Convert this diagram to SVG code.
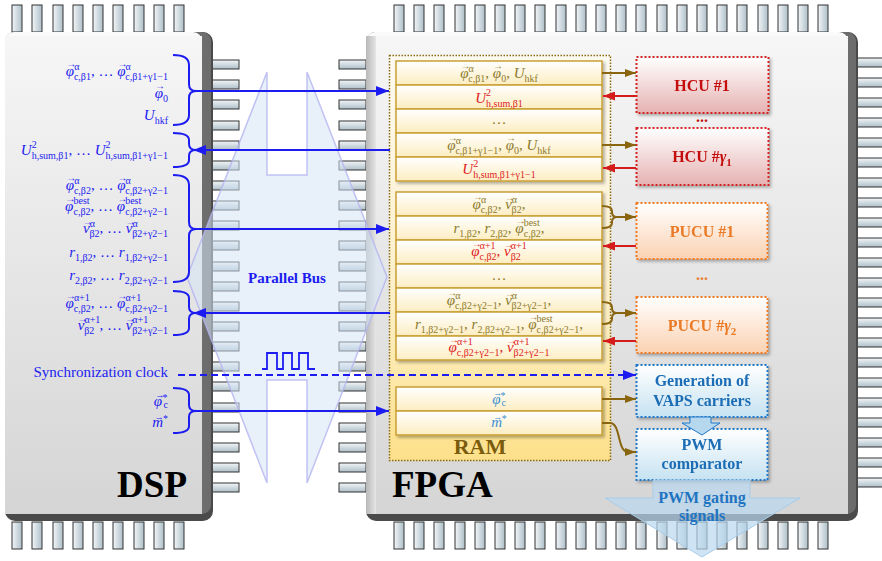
<svg xmlns="http://www.w3.org/2000/svg" xmlns:xlink="http://www.w3.org/1999/xlink" width="882" height="561" viewBox="0 0 882 561">
<defs>
<linearGradient id="body" x1="0" y1="0" x2="0" y2="1"><stop offset="0" stop-color="#f6f6f6"/><stop offset="1" stop-color="#d5d5d5"/></linearGradient>
<linearGradient id="rimR" x1="0" y1="0" x2="1" y2="0"><stop offset="0" stop-color="#a4a4a4"/><stop offset="1" stop-color="#6c6c6c"/></linearGradient>
<linearGradient id="rimL" x1="0" y1="0" x2="1" y2="0"><stop offset="0" stop-color="#b8b8b8"/><stop offset="1" stop-color="#eeeeee"/></linearGradient>
<linearGradient id="pinGH" x1="0" y1="0" x2="1" y2="0"><stop offset="0" stop-color="#f2f6f8"/><stop offset="1" stop-color="#aebfc8"/></linearGradient>
<linearGradient id="pinGV" x1="0" y1="0" x2="0" y2="1"><stop offset="0" stop-color="#f2f6f8"/><stop offset="1" stop-color="#aebfc8"/></linearGradient>
<linearGradient id="ramBg" x1="0" y1="0" x2="0" y2="1"><stop offset="0" stop-color="#fdfaf1"/><stop offset="0.6" stop-color="#fdf0c8"/><stop offset="1" stop-color="#fde08a"/></linearGradient>
<linearGradient id="cell" x1="0" y1="0" x2="0" y2="1"><stop offset="0" stop-color="#ffffff"/><stop offset="1" stop-color="#fdedc2"/></linearGradient>
<linearGradient id="hcuG" x1="0" y1="0" x2="0" y2="1"><stop offset="0" stop-color="#ffffff"/><stop offset="1" stop-color="#e6b2b2"/></linearGradient>
<linearGradient id="pucuG" x1="0" y1="0" x2="0" y2="1"><stop offset="0" stop-color="#ffffff"/><stop offset="1" stop-color="#fbd2b2"/></linearGradient>
<linearGradient id="genG" x1="0" y1="0" x2="0" y2="1"><stop offset="0" stop-color="#ffffff"/><stop offset="1" stop-color="#c6e2f1"/></linearGradient>
<filter id="sh" x="-10%" y="-10%" width="130%" height="140%"><feDropShadow dx="2" dy="2" stdDeviation="1.5" flood-color="#000" flood-opacity="0.3"/></filter>
<marker id="mb" markerUnits="userSpaceOnUse" markerWidth="13" markerHeight="10" refX="13" refY="5" orient="auto"><path d="M0,0 L13,5 L0,10 z" fill="#1c1cf0"/></marker>
<marker id="mbr" markerUnits="userSpaceOnUse" markerWidth="11" markerHeight="8" refX="11" refY="4" orient="auto"><path d="M0,0 L11,4 L0,8 z" fill="#8a6510"/></marker>
<marker id="mr" markerUnits="userSpaceOnUse" markerWidth="12" markerHeight="9" refX="12" refY="4.5" orient="auto"><path d="M0,0 L12,4.5 L0,9 z" fill="#d41c1c"/></marker>
<rect id="pv" width="10" height="27" fill="url(#pinGH)" stroke="#333" stroke-width="1"/>
<rect id="ph" width="27" height="9" fill="url(#pinGV)" stroke="#333" stroke-width="1"/>
<style>
text{font-family:"Liberation Serif","Times New Roman",serif;}
.d{fill:#1c1cf0;font-size:15px;text-anchor:end}
.i{font-style:italic}
.s{font-size:10px;font-style:normal}
.ar{font-family:"Liberation Mono",monospace;font-size:10px;font-style:normal}
.ar3{font-family:"Liberation Mono",monospace;font-size:9px;font-style:normal}
.c{text-anchor:middle;font-size:15px}
.ol{fill:#8b7a2c}
.rd{fill:#dd2222}
.bl{fill:#3a8ed4}
.cellr{fill:url(#cell);stroke:#c9a035;stroke-width:1.5}
.bt{font-weight:bold;text-anchor:middle;font-size:16px}
.blu{stroke:#1c1cf0;stroke-width:2;fill:none}
.brn{stroke:#8a6510;stroke-width:2;fill:none}
.red{stroke:#d41c1c;stroke-width:2;fill:none}
</style>
</defs>
<rect width="882" height="561" fill="#ffffff"/>

<g id="dsp">
<g id="dsp-pins">
<use href="#pv" x="12" y="5"/><use href="#pv" x="32" y="5"/><use href="#pv" x="53" y="5"/><use href="#pv" x="73" y="5"/><use href="#pv" x="93" y="5"/><use href="#pv" x="113" y="5"/><use href="#pv" x="134" y="5"/><use href="#pv" x="154" y="5"/><use href="#pv" x="174" y="5"/>
<use href="#pv" x="12" y="522"/><use href="#pv" x="32" y="522"/><use href="#pv" x="53" y="522"/><use href="#pv" x="73" y="522"/><use href="#pv" x="93" y="522"/><use href="#pv" x="113" y="522"/><use href="#pv" x="134" y="522"/><use href="#pv" x="154" y="522"/><use href="#pv" x="174" y="522"/>
<use href="#ph" x="212" y="60"/><use href="#ph" x="212" y="80"/><use href="#ph" x="212" y="100"/><use href="#ph" x="212" y="121"/><use href="#ph" x="212" y="141"/><use href="#ph" x="212" y="161"/><use href="#ph" x="212" y="181"/><use href="#ph" x="212" y="201"/><use href="#ph" x="212" y="221"/><use href="#ph" x="212" y="241"/><use href="#ph" x="212" y="262"/><use href="#ph" x="212" y="282"/><use href="#ph" x="212" y="302"/><use href="#ph" x="212" y="322"/><use href="#ph" x="212" y="342"/><use href="#ph" x="212" y="362"/><use href="#ph" x="212" y="382"/><use href="#ph" x="212" y="403"/><use href="#ph" x="212" y="423"/><use href="#ph" x="212" y="443"/><use href="#ph" x="212" y="463"/><use href="#ph" x="212" y="483"/>
</g>
<rect x="5" y="32" width="208" height="489" rx="10" fill="#4a4a4a"/>
<rect x="5" y="32" width="206" height="482" rx="9" fill="url(#rimR)"/>
<rect x="5" y="32" width="197" height="482" rx="9" fill="#fafafa"/>
<rect x="5" y="36" width="197" height="478" fill="url(#body)"/>
<text x="187" y="497" font-size="37" font-weight="bold" text-anchor="end" fill="#000">DSP</text>
</g>

<g id="fpga">
<g id="fpga-pins">
<use href="#pv" x="394" y="5"/><use href="#pv" x="414" y="5"/><use href="#pv" x="434" y="5"/><use href="#pv" x="455" y="5"/><use href="#pv" x="475" y="5"/><use href="#pv" x="495" y="5"/><use href="#pv" x="515" y="5"/><use href="#pv" x="535" y="5"/><use href="#pv" x="556" y="5"/><use href="#pv" x="576" y="5"/><use href="#pv" x="596" y="5"/><use href="#pv" x="616" y="5"/><use href="#pv" x="636" y="5"/><use href="#pv" x="657" y="5"/><use href="#pv" x="677" y="5"/><use href="#pv" x="697" y="5"/><use href="#pv" x="717" y="5"/><use href="#pv" x="737" y="5"/><use href="#pv" x="758" y="5"/><use href="#pv" x="778" y="5"/><use href="#pv" x="798" y="5"/><use href="#pv" x="818" y="5"/>
<use href="#pv" x="394" y="522"/><use href="#pv" x="414" y="522"/><use href="#pv" x="434" y="522"/><use href="#pv" x="455" y="522"/><use href="#pv" x="475" y="522"/><use href="#pv" x="495" y="522"/><use href="#pv" x="515" y="522"/><use href="#pv" x="535" y="522"/><use href="#pv" x="556" y="522"/><use href="#pv" x="576" y="522"/><use href="#pv" x="596" y="522"/><use href="#pv" x="616" y="522"/><use href="#pv" x="636" y="522"/><use href="#pv" x="657" y="522"/><use href="#pv" x="677" y="522"/><use href="#pv" x="697" y="522"/><use href="#pv" x="717" y="522"/><use href="#pv" x="737" y="522"/><use href="#pv" x="758" y="522"/><use href="#pv" x="778" y="522"/><use href="#pv" x="798" y="522"/><use href="#pv" x="818" y="522"/>
<use href="#ph" x="339" y="60"/><use href="#ph" x="339" y="80"/><use href="#ph" x="339" y="100"/><use href="#ph" x="339" y="121"/><use href="#ph" x="339" y="141"/><use href="#ph" x="339" y="161"/><use href="#ph" x="339" y="181"/><use href="#ph" x="339" y="201"/><use href="#ph" x="339" y="221"/><use href="#ph" x="339" y="241"/><use href="#ph" x="339" y="262"/><use href="#ph" x="339" y="282"/><use href="#ph" x="339" y="302"/><use href="#ph" x="339" y="322"/><use href="#ph" x="339" y="342"/><use href="#ph" x="339" y="362"/><use href="#ph" x="339" y="382"/><use href="#ph" x="339" y="403"/><use href="#ph" x="339" y="423"/><use href="#ph" x="339" y="443"/><use href="#ph" x="339" y="463"/><use href="#ph" x="339" y="483"/>
<use href="#ph" x="857" y="58"/><use href="#ph" x="857" y="78"/><use href="#ph" x="857" y="98"/><use href="#ph" x="857" y="118"/><use href="#ph" x="857" y="138"/><use href="#ph" x="857" y="158"/><use href="#ph" x="857" y="178"/><use href="#ph" x="857" y="198"/><use href="#ph" x="857" y="218"/><use href="#ph" x="857" y="238"/><use href="#ph" x="857" y="258"/><use href="#ph" x="857" y="278"/><use href="#ph" x="857" y="298"/><use href="#ph" x="857" y="318"/><use href="#ph" x="857" y="338"/><use href="#ph" x="857" y="358"/><use href="#ph" x="857" y="378"/><use href="#ph" x="857" y="398"/><use href="#ph" x="857" y="418"/><use href="#ph" x="857" y="438"/><use href="#ph" x="857" y="458"/><use href="#ph" x="857" y="478"/>
</g>
<rect x="366" y="32" width="492" height="489" rx="10" fill="#4a4a4a"/>
<rect x="366" y="32" width="490" height="482" rx="9" fill="url(#rimR)"/>
<rect x="366" y="32" width="482" height="482" rx="9" fill="#fafafa"/>
<rect x="366" y="36" width="12" height="478" fill="url(#rimL)"/>
<rect x="376" y="36" width="472" height="478" fill="url(#body)"/>
<text x="392" y="497" font-size="37" font-weight="bold" fill="#000">FPGA</text>
</g>

<g id="bus">
<polygon points="187,277 267,72 267,175 307,175 307,72 387,277 307,483 307,380 267,380 267,483" fill="#d6e6f6" fill-opacity="0.55" stroke="#b4b4f0" stroke-opacity="0.8" stroke-width="1.5"/>
<text x="287" y="283" font-size="15" font-weight="bold" text-anchor="middle" fill="#1c1cf0">Parallel Bus</text>
<path d="M262,369 H267 V353 H277 V369 H283 V353 H292 V369 H299 V353 H308 V369 H315" fill="none" stroke="#1c1cf0" stroke-width="1.8"/>
</g>

<g id="dsp-labels">
<text class="d" x="168" y="76"><tspan class="i">φ</tspan><tspan class="ar" dx="-6" dy="-9">→</tspan><tspan class="s" dy="3">α</tspan><tspan class="s" dx="-5.5" dy="10">c,β1</tspan><tspan dy="-4">, … </tspan><tspan class="i">φ</tspan><tspan class="ar" dx="-6" dy="-9">→</tspan><tspan class="s" dy="3">α</tspan><tspan class="s" dx="-5.5" dy="10">c,β1+γ1−1</tspan></text>
<text class="d" x="168" y="98"><tspan class="i">φ</tspan><tspan class="ar" dx="-6" dy="-9">→</tspan><tspan class="s" dy="13">0</tspan></text>
<text class="d" x="168" y="120"><tspan class="i">U</tspan><tspan class="s" dy="4">hkf</tspan></text>
<text class="d" x="168" y="155"><tspan class="i">U</tspan><tspan class="s" dy="-7">2</tspan><tspan class="s" dx="-5" dy="11">h,sum,β1</tspan><tspan dy="-4">, … </tspan><tspan class="i">U</tspan><tspan class="s" dy="-7">2</tspan><tspan class="s" dx="-5" dy="11">h,sum,β1+γ1−1</tspan></text>
<text class="d" x="168" y="190"><tspan class="i">φ</tspan><tspan class="ar" dx="-6" dy="-9">→</tspan><tspan class="s" dy="3">α</tspan><tspan class="s" dx="-5.5" dy="10">c,β2</tspan><tspan dy="-4">, … </tspan><tspan class="i">φ</tspan><tspan class="ar" dx="-6" dy="-9">→</tspan><tspan class="s" dy="3">α</tspan><tspan class="s" dx="-5.5" dy="10">c,β2+γ2−1</tspan></text>
<text class="d" x="168" y="211"><tspan class="i">φ</tspan><tspan class="ar" dx="-6" dy="-9">→</tspan><tspan class="s" dy="2">best</tspan><tspan class="s" dx="-16" dy="11">c,β2</tspan><tspan dy="-4">, … </tspan><tspan class="i">φ</tspan><tspan class="ar" dx="-6" dy="-9">→</tspan><tspan class="s" dy="2">best</tspan><tspan class="s" dx="-16" dy="11">c,β2+γ2−1</tspan></text>
<text class="d" x="168" y="233"><tspan class="i">v</tspan><tspan class="ar" dx="-5" dy="-8">→</tspan><tspan class="s" dx="-1" dy="2">α</tspan><tspan class="s" dx="-5.5" dy="10">β2</tspan><tspan dy="-4">, … </tspan><tspan class="i">v</tspan><tspan class="ar" dx="-5" dy="-8">→</tspan><tspan class="s" dx="-1" dy="2">α</tspan><tspan class="s" dx="-5.5" dy="10">β2+γ2−1</tspan></text>
<text class="d" x="168" y="257"><tspan class="i">r</tspan><tspan class="s" dy="4">1,β2</tspan><tspan dy="-4">, … </tspan><tspan class="i">r</tspan><tspan class="s" dy="4">1,β2+γ2−1</tspan></text>
<text class="d" x="168" y="280"><tspan class="i">r</tspan><tspan class="s" dy="4">2,β2</tspan><tspan dy="-4">, … </tspan><tspan class="i">r</tspan><tspan class="s" dy="4">2,β2+γ2−1</tspan></text>
<text class="d" x="168" y="308"><tspan class="i">φ</tspan><tspan class="ar" dx="-6" dy="-9">→</tspan><tspan class="s" dy="2">α+1</tspan><tspan class="s" dx="-16" dy="11">c,β2</tspan><tspan dy="-4">, … </tspan><tspan class="i">φ</tspan><tspan class="ar" dx="-6" dy="-9">→</tspan><tspan class="s" dy="2">α+1</tspan><tspan class="s" dx="-16" dy="11">c,β2+γ2−1</tspan></text>
<text class="d" x="168" y="330"><tspan class="i">v</tspan><tspan class="ar" dx="-5" dy="-8">→</tspan><tspan class="s" dx="-1" dy="1">α+1</tspan><tspan class="s" dx="-16" dy="11">β2</tspan><tspan dx="5" dy="-4">, … </tspan><tspan class="i">v</tspan><tspan class="ar" dx="-5" dy="-8">→</tspan><tspan class="s" dx="-1" dy="1">α+1</tspan><tspan class="s" dx="-16" dy="11">β2+γ2−1</tspan></text>
<text class="d" x="168" y="377" font-size="16">Synchronization clock</text>
<text class="d" x="168" y="406" font-size="13"><tspan class="i">φ</tspan><tspan class="ar3" dx="-5" dy="-8">→</tspan><tspan class="s" font-size="9" dy="3">*</tspan><tspan class="s" font-size="9" dx="-4" dy="7">c</tspan></text>
<text class="d" x="168" y="427" font-size="13"><tspan class="i">m</tspan><tspan class="ar3" dx="-6.4" dy="-7">→</tspan><tspan class="s" font-size="9" dx="1" dy="2">*</tspan></text>
</g>

<g id="ram">
<rect x="389.5" y="55.5" width="221" height="405" fill="url(#ramBg)" stroke="#8a6a12" stroke-width="1.5" stroke-dasharray="1.5 1.5"/>
<g filter="url(#sh)">
<rect class="cellr" x="396" y="61" width="206" height="24"/>
<rect class="cellr" x="396" y="85" width="206" height="24"/>
<rect class="cellr" x="396" y="109" width="206" height="24"/>
<rect class="cellr" x="396" y="133" width="206" height="24"/>
<rect class="cellr" x="396" y="157" width="206" height="24"/>
</g>
<g filter="url(#sh)">
<rect class="cellr" x="396" y="192" width="206" height="24"/>
<rect class="cellr" x="396" y="216" width="206" height="24"/>
<rect class="cellr" x="396" y="240" width="206" height="24"/>
<rect class="cellr" x="396" y="264" width="206" height="24"/>
<rect class="cellr" x="396" y="288" width="206" height="24"/>
<rect class="cellr" x="396" y="312" width="206" height="24"/>
<rect class="cellr" x="396" y="336" width="206" height="24"/>
</g>
<g filter="url(#sh)">
<rect class="cellr" x="396" y="387" width="206" height="24"/>
<rect class="cellr" x="396" y="411" width="206" height="24"/>
</g>
<text class="c ol" x="499" y="78"><tspan class="i">φ</tspan><tspan class="ar" dx="-6" dy="-9">→</tspan><tspan class="s" dy="3">α</tspan><tspan class="s" dx="-5.5" dy="10">c,β1</tspan><tspan dy="-4">, </tspan><tspan class="i">φ</tspan><tspan class="ar" dx="-6" dy="-9">→</tspan><tspan class="s" dy="13">0</tspan><tspan dy="-4">, </tspan><tspan class="i">U</tspan><tspan class="s" dy="4">hkf</tspan></text>
<text class="c rd" x="499" y="103" font-size="16"><tspan class="i">U</tspan><tspan class="s" dy="-7">2</tspan><tspan class="s" dx="-5" dy="11">h,sum,β1</tspan></text>
<text class="c ol" x="499" y="124">…</text>
<text class="c ol" x="499" y="150"><tspan class="i">φ</tspan><tspan class="ar" dx="-6" dy="-9">→</tspan><tspan class="s" dy="3">α</tspan><tspan class="s" dx="-5.5" dy="10">c,β1+γ1−1</tspan><tspan dy="-4">, </tspan><tspan class="i">φ</tspan><tspan class="ar" dx="-6" dy="-9">→</tspan><tspan class="s" dy="13">0</tspan><tspan dy="-4">, </tspan><tspan class="i">U</tspan><tspan class="s" dy="4">hkf</tspan></text>
<text class="c rd" x="499" y="174" font-size="16"><tspan class="i">U</tspan><tspan class="s" dy="-7">2</tspan><tspan class="s" dx="-5" dy="11">h,sum,β1+γ1−1</tspan></text>
<text class="c ol" x="499" y="209"><tspan class="i">φ</tspan><tspan class="ar" dx="-6" dy="-9">→</tspan><tspan class="s" dy="3">α</tspan><tspan class="s" dx="-5.5" dy="10">c,β2</tspan><tspan dy="-4">, </tspan><tspan class="i">v</tspan><tspan class="ar" dx="-5" dy="-8">→</tspan><tspan class="s" dx="-1" dy="2">α</tspan><tspan class="s" dx="-5.5" dy="10">β2</tspan><tspan dy="-4">,</tspan></text>
<text class="c ol" x="499" y="233"><tspan class="i">r</tspan><tspan class="s" dy="4">1,β2</tspan><tspan dy="-4">, </tspan><tspan class="i">r</tspan><tspan class="s" dy="4">2,β2</tspan><tspan dy="-4">, </tspan><tspan class="i">φ</tspan><tspan class="ar" dx="-6" dy="-9">→</tspan><tspan class="s" dy="2">best</tspan><tspan class="s" dx="-16" dy="11">c,β2</tspan><tspan dy="-4">,</tspan></text>
<text class="c rd" x="499" y="256"><tspan class="i">φ</tspan><tspan class="ar" dx="-6" dy="-9">→</tspan><tspan class="s" dy="2">α+1</tspan><tspan class="s" dx="-16" dy="11">c,β2</tspan><tspan dy="-4">, </tspan><tspan class="i">v</tspan><tspan class="ar" dx="-5" dy="-8">→</tspan><tspan class="s" dx="-1" dy="1">α+1</tspan><tspan class="s" dx="-16" dy="11">β2</tspan></text>
<text class="c ol" x="499" y="280">…</text>
<text class="c ol" x="499" y="305"><tspan class="i">φ</tspan><tspan class="ar" dx="-6" dy="-9">→</tspan><tspan class="s" dy="3">α</tspan><tspan class="s" dx="-5.5" dy="10">c,β2+γ2−1</tspan><tspan dy="-4">, </tspan><tspan class="i">v</tspan><tspan class="ar" dx="-5" dy="-8">→</tspan><tspan class="s" dx="-1" dy="2">α</tspan><tspan class="s" dx="-5.5" dy="10">β2+γ2−1</tspan><tspan dy="-4">,</tspan></text>
<text class="c ol" x="499" y="329"><tspan class="i">r</tspan><tspan class="s" dy="4">1,β2+γ2−1</tspan><tspan dy="-4">, </tspan><tspan class="i">r</tspan><tspan class="s" dy="4">2,β2+γ2−1</tspan><tspan dy="-4">, </tspan><tspan class="i">φ</tspan><tspan class="ar" dx="-6" dy="-9">→</tspan><tspan class="s" dy="2">best</tspan><tspan class="s" dx="-16" dy="11">c,β2+γ2−1</tspan><tspan dy="-4">,</tspan></text>
<text class="c rd" x="499" y="352"><tspan class="i">φ</tspan><tspan class="ar" dx="-6" dy="-9">→</tspan><tspan class="s" dy="2">α+1</tspan><tspan class="s" dx="-16" dy="11">c,β2+γ2−1</tspan><tspan dy="-4">, </tspan><tspan class="i">v</tspan><tspan class="ar" dx="-5" dy="-8">→</tspan><tspan class="s" dx="-1" dy="1">α+1</tspan><tspan class="s" dx="-16" dy="11">β2+γ2−1</tspan></text>
<text class="c bl" x="499" y="404" font-size="14"><tspan class="i">φ</tspan><tspan class="ar3" dx="-5.5" dy="-8">→</tspan><tspan class="s" font-size="9" dy="3">*</tspan><tspan class="s" font-size="9" dx="-4" dy="7">c</tspan></text>
<text class="c bl" x="499" y="427" font-size="14"><tspan class="i">m</tspan><tspan class="ar3" dx="-7" dy="-7">→</tspan><tspan class="s" font-size="9" dx="1.2" dy="2">*</tspan></text>
<text x="480" y="454" font-size="22" font-weight="bold" text-anchor="middle" fill="#7a5c0c">RAM</text>
</g>

<g id="hcu1" filter="url(#sh)">
<rect x="636.5" y="57" width="132" height="56" fill="url(#hcuG)" stroke="#d42020" stroke-width="2" stroke-dasharray="2 2"/>
<text class="bt" x="702" y="91" fill="#c41010">HCU #1</text>
</g>
<text id="hcu-dots" class="bt" x="702" y="122" fill="#c41010">...</text>
<g id="hcu-g1" filter="url(#sh)">
<rect x="636.5" y="128" width="132" height="57" fill="url(#hcuG)" stroke="#d42020" stroke-width="2" stroke-dasharray="2 2"/>
<text class="bt" x="702" y="162" fill="#c41010">HCU #<tspan font-style="italic">γ</tspan><tspan font-size="11" dy="4">1</tspan></text>
</g>
<g id="pucu1" filter="url(#sh)">
<rect x="636.5" y="203" width="131" height="56" fill="url(#pucuG)" stroke="#f07a22" stroke-width="2" stroke-dasharray="2 2"/>
<text class="bt" x="702" y="237" fill="#ea7a26">PUCU #1</text>
</g>
<text id="pucu-dots" class="bt" x="702" y="280" fill="#ea7a26">...</text>
<g id="pucu-g2" filter="url(#sh)">
<rect x="636.5" y="297" width="131" height="56" fill="url(#pucuG)" stroke="#f07a22" stroke-width="2" stroke-dasharray="2 2"/>
<text class="bt" x="702" y="331" fill="#ea7a26">PUCU #<tspan font-style="italic">γ</tspan><tspan font-size="11" dy="4">2</tspan></text>
</g>
<g id="gen" filter="url(#sh)">
<rect x="636.5" y="365" width="131" height="52" fill="url(#genG)" stroke="#1f78c8" stroke-width="2" stroke-dasharray="2 2"/>
<text class="bt" x="702" y="386" fill="#1a6db5">Generation of</text>
<text class="bt" x="702" y="406" fill="#1a6db5">VAPS carriers</text>
</g>
<g id="pwm" filter="url(#sh)">
<rect x="636.5" y="429" width="131" height="51" fill="url(#genG)" stroke="#1f78c8" stroke-width="2" stroke-dasharray="2 2"/>
<text class="bt" x="702" y="450" fill="#1a6db5">PWM</text>
<text class="bt" x="702" y="469" fill="#1a6db5">comparator</text>
</g>
<g id="gating">
<polygon points="653,480 750,480 750,498 800,498 702,557 605,498 653,498" fill="#b9d8f0" fill-opacity="0.7" stroke="#a8cce8" stroke-width="1"/>
<text class="bt" x="702" y="503" fill="#1f74c2">PWM gating</text>
<text class="bt" x="702" y="521" fill="#1f74c2">signals</text>
</g>

<g id="connectors">
<path class="blu" d="M173,55 Q189,55 189,65 L189,84 Q189,91 196,91 Q189,91 189,98 L189,115 Q189,125 173,125"/>
<line class="blu" x1="196" y1="91" x2="389" y2="91" marker-end="url(#mb)"/>
<path class="blu" d="M173,133 Q189,133 189,140 L189,144 Q189,150 196,150 Q189,150 189,156 L189,160 Q189,167 173,167"/>
<line class="blu" x1="390" y1="150" x2="193" y2="150" marker-end="url(#mb)"/>
<path class="blu" d="M173,175 Q189,175 189,185 L189,222 Q189,229 196,229 Q189,229 189,236 L189,272 Q189,282 173,282"/>
<line class="blu" x1="196" y1="229" x2="389" y2="229" marker-end="url(#mb)"/>
<path class="blu" d="M173,291 Q189,291 189,298 L189,307 Q189,313 196,313 Q189,313 189,319 L189,328 Q189,335 173,335"/>
<line class="blu" x1="390" y1="313" x2="193" y2="313" marker-end="url(#mb)"/>
<line class="blu" x1="178" y1="375" x2="636" y2="375" stroke-dasharray="7 4" marker-end="url(#mb)"/>
<path class="blu" d="M173,388 Q189,388 189,395 L189,405 Q189,411 196,411 Q189,411 189,417 L189,426 Q189,433 173,433"/>
<line class="blu" x1="196" y1="411" x2="389" y2="411" marker-end="url(#mb)"/>

<line class="brn" x1="602" y1="73" x2="636" y2="73" marker-end="url(#mbr)"/>
<line class="red" x1="636" y1="96" x2="603" y2="96" marker-end="url(#mr)"/>
<line class="brn" x1="602" y1="145" x2="636" y2="145" marker-end="url(#mbr)"/>
<line class="red" x1="636" y1="168" x2="603" y2="168" marker-end="url(#mr)"/>
<path class="brn" d="M602,206 Q612,206 612,211 L612,212 Q612,217 617,217 Q612,217 612,222 L612,223 Q612,228 602,228"/>
<line class="brn" x1="617" y1="217" x2="636" y2="217" marker-end="url(#mbr)"/>
<line class="red" x1="636" y1="246" x2="603" y2="246" marker-end="url(#mr)"/>
<path class="brn" d="M602,302 Q612,302 612,307 L612,308 Q612,313 617,313 Q612,313 612,318 L612,319 Q612,324 602,324"/>
<line class="brn" x1="617" y1="313" x2="636" y2="313" marker-end="url(#mbr)"/>
<line class="red" x1="636" y1="341" x2="603" y2="341" marker-end="url(#mr)"/>
<line class="brn" x1="602" y1="399" x2="636" y2="399" marker-end="url(#mbr)"/>
<path class="brn" d="M602,423 L610,423 C621,423 617,452 628,452 L636,452" marker-end="url(#mbr)"/>
<polygon points="690,417 711,417 711,423 720,423 702,435 682,423 690,423" fill="#b6d8ee" stroke="#1f78c8" stroke-width="1"/>
</g>
</svg>
